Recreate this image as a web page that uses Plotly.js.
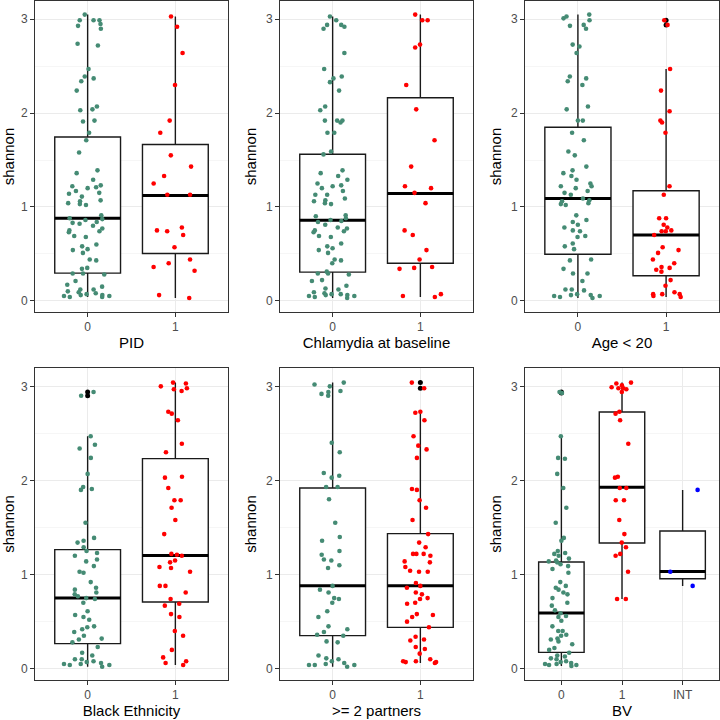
<!DOCTYPE html>
<html>
<head>
<meta charset="utf-8">
<script src="https://cdn.plot.ly/plotly-3.0.1.min.js"></script>
<style>
  html, body { margin: 0; padding: 0; background: #fff; }
  #chart { width: 720px; height: 720px; }
</style>
</head>
<body>
<div id="chart"></div>
<script>
// shannon diversity values per group
const pid0 = [3.05, 2.99, 2.99, 2.99, 2.95, 2.93, 2.90, 2.74, 2.72, 2.47, 2.39, 2.37, 2.34, 2.24, 2.07, 2.04, 2.03, 1.92, 1.91, 1.79, 1.71, 1.58, 1.39, 1.36, 1.29, 1.23, 1.22, 1.21, 1.20, 1.17, 1.15, 1.14, 1.11, 1.07, 1.06, 1.04, 1.03, 1.02, 0.91, 0.88, 0.87, 0.86, 0.84, 0.83, 0.82, 0.80, 0.77, 0.75, 0.74, 0.73, 0.69, 0.68, 0.60, 0.58, 0.55, 0.54, 0.51, 0.44, 0.43, 0.35, 0.34, 0.29, 0.29, 0.28, 0.21, 0.17, 0.15, 0.12, 0.12, 0.10, 0.09, 0.08, 0.07, 0.06, 0.06, 0.05, 0.05, 0.04, 0.04];
const pid1 = [3.03, 2.92, 2.64, 2.30, 1.92, 1.79, 1.55, 1.43, 1.33, 1.25, 1.13, 1.13, 0.78, 0.75, 0.74, 0.70, 0.57, 0.44, 0.40, 0.36, 0.32, 0.06, 0.03];

const chl0 = [3.03, 2.99, 2.94, 2.94, 2.92, 2.90, 2.64, 2.47, 2.39, 2.37, 2.33, 2.24, 2.07, 2.03, 1.92, 1.92, 1.92, 1.90, 1.79, 1.79, 1.59, 1.56, 1.39, 1.36, 1.33, 1.29, 1.25, 1.23, 1.22, 1.20, 1.17, 1.13, 1.13, 1.09, 1.07, 1.06, 1.04, 1.03, 0.91, 0.90, 0.88, 0.86, 0.85, 0.84, 0.81, 0.78, 0.77, 0.75, 0.74, 0.73, 0.69, 0.68, 0.61, 0.58, 0.56, 0.54, 0.51, 0.44, 0.43, 0.40, 0.31, 0.29, 0.29, 0.28, 0.22, 0.21, 0.16, 0.13, 0.12, 0.09, 0.08, 0.07, 0.07, 0.06, 0.06, 0.05, 0.05, 0.04, 0.03];
const chl1 = [3.05, 2.99, 2.99, 2.73, 2.70, 2.30, 2.04, 1.71, 1.43, 1.22, 1.20, 1.15, 1.04, 0.75, 0.70, 0.54, 0.44, 0.36, 0.35, 0.34, 0.07, 0.05, 0.04];

const age0 = [3.05, 3.03, 3.01, 2.99, 2.94, 2.93, 2.90, 2.73, 2.71, 2.64, 2.39, 2.37, 2.34, 2.30, 2.07, 2.04, 1.92, 1.92, 1.79, 1.71, 1.59, 1.55, 1.43, 1.39, 1.36, 1.33, 1.29, 1.25, 1.22, 1.22, 1.20, 1.17, 1.15, 1.13, 1.09, 1.07, 1.06, 1.04, 1.03, 1.02, 0.91, 0.86, 0.84, 0.81, 0.78, 0.75, 0.74, 0.69, 0.68, 0.61, 0.58, 0.55, 0.44, 0.43, 0.34, 0.29, 0.29, 0.21, 0.12, 0.12, 0.11, 0.07, 0.06, 0.06, 0.05, 0.05, 0.04, 0.03];
const age1 = [2.99, 2.94, 2.47, 2.24, 2.02, 1.92, 1.90, 1.79, 1.22, 1.13, 0.88, 0.88, 0.81, 0.78, 0.75, 0.74, 0.74, 0.70, 0.57, 0.54, 0.51, 0.44, 0.40, 0.36, 0.35, 0.33, 0.31, 0.22, 0.16, 0.09, 0.07, 0.07, 0.07, 0.05, 0.04];

const black0 = [2.94, 2.90, 2.47, 2.38, 2.34, 2.24, 2.07, 1.93, 1.91, 1.90, 1.55, 1.39, 1.36, 1.34, 1.29, 1.25, 1.23, 1.20, 1.16, 1.14, 1.09, 1.03, 1.02, 0.92, 0.86, 0.84, 0.81, 0.79, 0.77, 0.75, 0.74, 0.70, 0.61, 0.57, 0.55, 0.52, 0.45, 0.44, 0.42, 0.39, 0.35, 0.32, 0.31, 0.28, 0.23, 0.17, 0.14, 0.10, 0.10, 0.08, 0.07, 0.06, 0.05, 0.05, 0.04, 0.04, 0.02];
const black1 = [3.04, 3.03, 3.00, 2.98, 2.97, 2.95, 2.73, 2.71, 2.64, 2.39, 2.30, 2.04, 2.03, 1.92, 1.79, 1.79, 1.71, 1.58, 1.43, 1.22, 1.21, 1.20, 1.15, 1.13, 1.08, 1.07, 1.03, 0.88, 0.88, 0.81, 0.74, 0.69, 0.67, 0.58, 0.55, 0.40, 0.35, 0.20, 0.12, 0.08, 0.06, 0.04];

const part0 = [3.04, 3.02, 3.00, 2.95, 2.94, 2.92, 2.90, 2.40, 2.30, 2.08, 2.05, 2.03, 1.93, 1.93, 1.80, 1.55, 1.40, 1.36, 1.25, 1.21, 1.16, 1.15, 1.10, 1.07, 0.88, 0.84, 0.81, 0.75, 0.74, 0.70, 0.61, 0.55, 0.45, 0.42, 0.39, 0.36, 0.35, 0.29, 0.28, 0.14, 0.11, 0.10, 0.08, 0.06, 0.05, 0.04, 0.04, 0.04, 0.02];
const part1 = [3.04, 2.98, 2.73, 2.72, 2.64, 2.47, 2.37, 2.33, 2.24, 1.91, 1.90, 1.79, 1.71, 1.58, 1.43, 1.34, 1.29, 1.22, 1.22, 1.22, 1.20, 1.14, 1.13, 1.08, 1.04, 1.03, 1.03, 0.91, 0.88, 0.86, 0.81, 0.79, 0.75, 0.74, 0.70, 0.69, 0.58, 0.57, 0.55, 0.50, 0.44, 0.34, 0.31, 0.30, 0.23, 0.21, 0.16, 0.10, 0.08, 0.08, 0.07, 0.07, 0.06];

const bv0 = [2.94, 2.93, 2.47, 2.24, 2.23, 2.07, 1.92, 1.71, 1.55, 1.39, 1.36, 1.25, 1.23, 1.22, 1.20, 1.17, 1.15, 1.14, 1.13, 1.11, 1.09, 1.06, 1.02, 0.92, 0.88, 0.86, 0.84, 0.81, 0.79, 0.75, 0.70, 0.67, 0.62, 0.59, 0.56, 0.55, 0.51, 0.45, 0.40, 0.40, 0.36, 0.35, 0.32, 0.31, 0.29, 0.26, 0.22, 0.20, 0.17, 0.14, 0.13, 0.11, 0.10, 0.08, 0.07, 0.06, 0.05, 0.05, 0.04, 0.04, 0.03];
const bv1 = [3.04, 3.03, 3.01, 2.99, 2.98, 2.98, 2.97, 2.94, 2.73, 2.71, 2.64, 2.39, 2.04, 2.03, 1.92, 1.92, 1.79, 1.79, 1.58, 1.43, 1.34, 1.29, 1.22, 1.20, 1.03, 0.74, 0.74];
const bvInt = [1.90, 1.03, 0.88];

// box stats: [lower whisker, q1, median, q3, upper whisker]
const pidBox = [[0.04, 0.294, 0.878, 1.746, 3.05], [0.03, 0.503, 1.123, 1.665, 3.03]];
const chlBox = [[0.03, 0.305, 0.857, 1.562, 3.03], [0.04, 0.40, 1.144, 2.164, 3.05]];
const ageBox = [[0.03, 0.496, 1.091, 1.849, 3.05], [0.04, 0.266, 0.70, 1.173, 2.47]];
const blackBox = [[0.02, 0.266, 0.751, 1.265, 2.47], [0.04, 0.708, 1.204, 2.232, 3.04]];
const partBox = [[0.02, 0.351, 0.882, 1.92, 3.04], [0.06, 0.439, 0.882, 1.435, 2.73]];
const bvBox = [[0.03, 0.174, 0.592, 1.134, 2.47], [0.74, 1.335, 1.927, 2.728, 3.04], [0.88, 0.956, 1.034, 1.463, 1.90]];

const twoLevels = ['0', '1'];
const bvLevels = ['0', '1', 'INT'];
const panelTitles = ['PID', 'Chlamydia at baseline', 'Age < 20', 'Black Ethnicity', '>= 2 partners', 'BV'];

const GREEN = '#458B74', RED = '#FF0000', BLUE = '#0000FF';
const FONT = 'Liberation Sans, Arial, sans-serif';
const BOXW = 0.75;

const panels = [
  {groups: [pid0, pid1], stats: pidBox, levels: twoLevels, colors: [GREEN, RED]},
  {groups: [chl0, chl1], stats: chlBox, levels: twoLevels, colors: [GREEN, RED]},
  {groups: [age0, age1], stats: ageBox, levels: twoLevels, colors: [GREEN, RED]},
  {groups: [black0, black1], stats: blackBox, levels: twoLevels, colors: [GREEN, RED]},
  {groups: [part0, part1], stats: partBox, levels: twoLevels, colors: [GREEN, RED]},
  {groups: [bv0, bv1, bvInt], stats: bvBox, levels: bvLevels, colors: [GREEN, RED, BLUE]}
];

// panel frames in pixels (left, right, top, bottom) -> paper domains
const colX = [[35, 228], [280, 473], [525, 719]];
const rowY = [[1, 312], [368, 680]];

const traces = [];
const layout = {
  width: 720, height: 720,
  margin: {l: 0, r: 0, t: 0, b: 0},
  paper_bgcolor: '#fff', plot_bgcolor: '#fff',
  showlegend: false, hovermode: false,
  boxmode: 'overlay',
  font: {family: FONT}
};

const clear = 'rgba(0,0,0,0)';

panels.forEach((p, k) => {
  const n = k + 1;
  const xa = 'x' + (n === 1 ? '' : n);
  const ya = 'y' + (n === 1 ? '' : n);
  const col = colX[k % 3], row = rowY[Math.floor(k / 3)];

  p.groups.forEach((vals, i) => {
    const s = p.stats[i];
    // box body + whiskers
    traces.push({
      type: 'box', xaxis: xa, yaxis: ya, x: [i],
      lowerfence: [s[0]], q1: [s[1]], median: [s[2]], q3: [s[3]], upperfence: [s[4]],
      width: BOXW, boxpoints: false, fillcolor: '#fff',
      line: {color: '#1a1a1a', width: 1.4}, whiskerwidth: 0, hoverinfo: 'skip'
    });
    // thicker median bar
    traces.push({
      type: 'box', xaxis: xa, yaxis: ya, x: [i],
      lowerfence: [s[2]], q1: [s[2]], median: [s[2]], q3: [s[2]], upperfence: [s[2]],
      width: BOXW, boxpoints: false, fillcolor: clear,
      line: {color: '#000', width: 3}, whiskerwidth: 0, hoverinfo: 'skip'
    });
    // outliers, black, no jitter
    const out = vals.filter(v => v > s[4] || v < s[0]);
    if (out.length) {
      traces.push({
        type: 'box', xaxis: xa, yaxis: ya, x: out.map(() => i), y: out,
        width: BOXW, boxpoints: 'all', jitter: 0, pointpos: 0,
        fillcolor: clear, line: {width: 0},
        marker: {color: '#000', size: 5}, hoverinfo: 'skip'
      });
    }
    // jittered observations
    traces.push({
      type: 'box', xaxis: xa, yaxis: ya, x: vals.map(() => i), y: vals,
      width: BOXW, boxpoints: 'all', jitter: 0.85, pointpos: 0,
      fillcolor: clear, line: {width: 0},
      marker: {color: p.colors[i], size: 4.6}, hoverinfo: 'skip'
    });
  });

  const nLev = p.levels.length;
  layout['xaxis' + (n === 1 ? '' : n)] = {
    domain: [col[0] / 720, col[1] / 720], anchor: ya,
    range: [-0.6, nLev - 0.4],
    tickvals: p.levels.map((_, i) => i), ticktext: p.levels,
    ticks: 'outside', ticklen: 4, tickwidth: 1, tickcolor: '#333',
    tickfont: {size: 12, color: '#4D4D4D', family: FONT},
    showgrid: true, gridcolor: '#EBEBEB', gridwidth: 1, zeroline: false,
    showline: true, mirror: true, linecolor: '#333', linewidth: 1,
    title: {text: panelTitles[k], font: {size: 15, color: '#000', family: FONT}, standoff: 4}
  };
  layout['yaxis' + (n === 1 ? '' : n)] = {
    domain: [1 - row[1] / 720, 1 - row[0] / 720], anchor: xa,
    range: [-0.12, 3.195],
    tickvals: [0, 1, 2, 3],
    ticks: 'outside', ticklen: 4, tickwidth: 1, tickcolor: '#333',
    tickfont: {size: 12, color: '#4D4D4D', family: FONT},
    showgrid: true, gridcolor: '#EBEBEB', gridwidth: 1, zeroline: false,
    minor: {tickvals: [0.5, 1.5, 2.5], showgrid: true, gridcolor: '#F0F0F0', gridwidth: 0.6, ticks: ''},
    showline: true, mirror: true, linecolor: '#333', linewidth: 1,
    title: {text: 'shannon', font: {size: 15, color: '#000', family: FONT}, standoff: 5}
  };
});

Plotly.newPlot('chart', traces, layout, {staticPlot: true});
</script>
</body>
</html>
